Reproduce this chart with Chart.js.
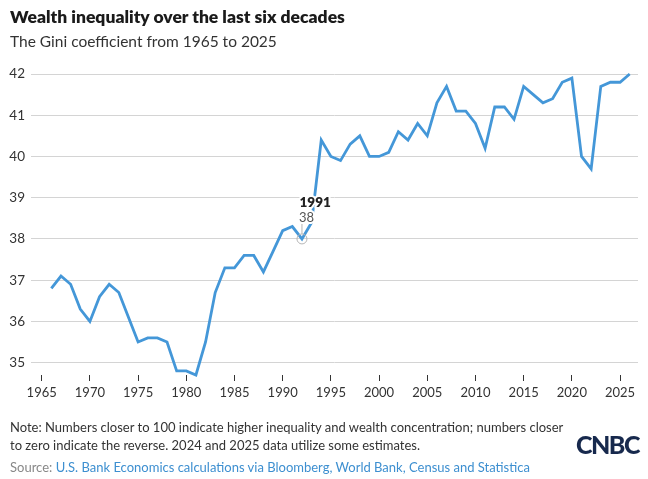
<!DOCTYPE html>
<html>
<head>
<meta charset="utf-8">
<script src="https://cdn.jsdelivr.net/npm/chart.js@4"></script>
<style>
  html, body { margin: 0; padding: 0; background: #fff; }
  #wrap { position: relative; width: 648px; height: 479px; overflow: hidden; font-family: Lato, "Open Sans", sans-serif; }
  #chartBox { position: absolute; left: 0; top: 0; width: 648px; height: 479px; }
  .title { position: absolute; left: 10px; top: 6px; font-size: 17.5px; font-weight: 800; color: #1a1a1a; white-space: nowrap; }
  .subtitle { position: absolute; left: 10px; top: 32px; font-size: 15.5px; color: #333; white-space: nowrap; }
  .note { position: absolute; left: 10px; top: 418px; font-size: 13px; line-height: 18px; color: #333; white-space: nowrap; }
  .source { position: absolute; left: 10px; top: 459px; font-size: 13px; color: #888; white-space: nowrap; }
  .source span { color: #3d8fd0; }
  .logo { position: absolute; left: 576px; top: 429px; font-size: 25px; font-weight: 900; color: #17294d; letter-spacing: -1.5px; font-family: Lato, sans-serif; }
</style>
</head>
<body>
<div id="wrap">
  <div id="chartBox"><canvas id="c"></canvas></div>
  <div class="title">Wealth inequality over the last six decades</div>
  <div class="subtitle">The Gini coefficient from 1965 to 2025</div>
  <div class="note">Note: Numbers closer to 100 indicate higher inequality and wealth concentration; numbers closer<br>to zero indicate the reverse. 2024 and 2025 data utilize some estimates.</div>
  <div class="source">Source: <span>U.S. Bank Economics calculations via Bloomberg, World Bank, Census and Statistica</span></div>
  <div class="logo">CNBC</div>
</div>
<script>
// Years as placed on the chart's x axis (the plot is shifted by one year in the original)
const years = [1966,1967,1968,1969,1970,1971,1972,1973,1974,1975,
               1976,1977,1978,1979,1980,1981,1982,1983,1984,1985,
               1986,1987,1988,1989,1990,1991,1992,1993,1994,1995,
               1996,1997,1998,1999,2000,2001,2002,2003,2004,2005,
               2006,2007,2008,2009,2010,2011,2012,2013,2014,2015,
               2016,2017,2018,2019,2020,2021,2022,2023,2024,2025,2026];
const giniValues = [36.8,37.1,36.9,36.3,36.0,36.6,36.9,36.7,36.1,35.5,
                    35.6,35.6,35.5,34.8,34.8,34.7,35.5,36.7,37.3,37.3,
                    37.6,37.6,37.2,37.7,38.2,38.3,38.0,38.4,40.4,40.0,
                    39.9,40.3,40.5,40.0,40.0,40.1,40.6,40.4,40.8,40.5,
                    41.3,41.7,41.1,41.1,40.8,40.2,41.2,41.2,40.9,41.7,
                    41.5,41.3,41.4,41.8,41.9,40.0,39.7,41.7,41.8,41.8,42.0];
const xTickYears = [1965,1970,1975,1980,1985,1990,1995,2000,2005,2010,2015,2020,2025];
const yTickValues = [35,36,37,38,39,40,41,42];
const annotationLabel = "1991";
const annotationX = 1992;
const annotationValue = 38;

const points = years.map((y, i) => ({ x: y, y: giniValues[i] }));

const annotationPlugin = {
  id: 'annot',
  afterDatasetsDraw(chart) {
    const ctx = chart.ctx;
    const xs = chart.scales.x, ys = chart.scales.y;
    const px = xs.getPixelForValue(annotationX);
    const py = ys.getPixelForValue(annotationValue);
    ctx.save();
    ctx.strokeStyle = '#b5b5b5';
    ctx.lineWidth = 1;
    ctx.beginPath();
    ctx.arc(px, py, 5, 0, Math.PI * 2);
    ctx.stroke();
    ctx.beginPath();
    ctx.moveTo(px, py - 5);
    ctx.lineTo(px, py - 16);
    ctx.stroke();
    ctx.textAlign = 'left';
    ctx.textBaseline = 'middle';
    ctx.lineJoin = 'round';
    ctx.font = '13px Lato, sans-serif';
    ctx.strokeStyle = '#fff';
    ctx.lineWidth = 4;
    ctx.strokeText(String(annotationValue), px - 3, py - 21);
    ctx.fillStyle = '#555';
    ctx.fillText(String(annotationValue), px - 3, py - 21);
    ctx.font = '800 13.5px Lato, sans-serif';
    ctx.strokeText(annotationLabel, px - 2.5, py - 36.5);
    ctx.fillStyle = '#222';
    ctx.fillText(annotationLabel, px - 2.5, py - 36.5);
    ctx.restore();
  }
};

new Chart(document.getElementById('c'), {
  type: 'line',
  data: {
    datasets: [{
      data: points,
      borderColor: '#4497d8',
      borderWidth: 2.8,
      pointRadius: 0,
      tension: 0,
      fill: false,
      clip: false
    }]
  },
  options: {
    responsive: true,
    maintainAspectRatio: false,
    animation: false,
    layout: { padding: { left: 0, right: 10, top: 74, bottom: 74 } },
    plugins: { legend: { display: false }, tooltip: { enabled: false } },
    scales: {
      x: {
        type: 'linear',
        min: 1963.89,
        max: 2026.86,
        afterBuildTicks(scale) { scale.ticks = xTickYears.map(v => ({ value: v })); },
        afterFit(scale) { scale.height = 30; },
        border: { display: false },
        grid: { drawOnChartArea: false, drawTicks: true, tickLength: 6, color: '#333', lineWidth: 1 },
        ticks: {
          callback: v => String(v),
          font: { family: 'Lato', size: 13 },
          color: '#333',
          padding: 4,
          maxRotation: 0,
          autoSkip: false
        }
      },
      y: {
        min: 34.7,
        max: 42,
        afterBuildTicks(scale) { scale.ticks = yTickValues.map(v => ({ value: v })); },
        afterFit(scale) { scale.width = 31; },
        border: { display: false },
        grid: { color: '#d4d4d4', lineWidth: 1, drawTicks: false },
        ticks: {
          callback: v => String(v),
          font: { family: 'Lato', size: 13.5 },
          color: '#333',
          padding: 6
        }
      }
    }
  },
  plugins: [annotationPlugin]
});
</script>
</body>
</html>
